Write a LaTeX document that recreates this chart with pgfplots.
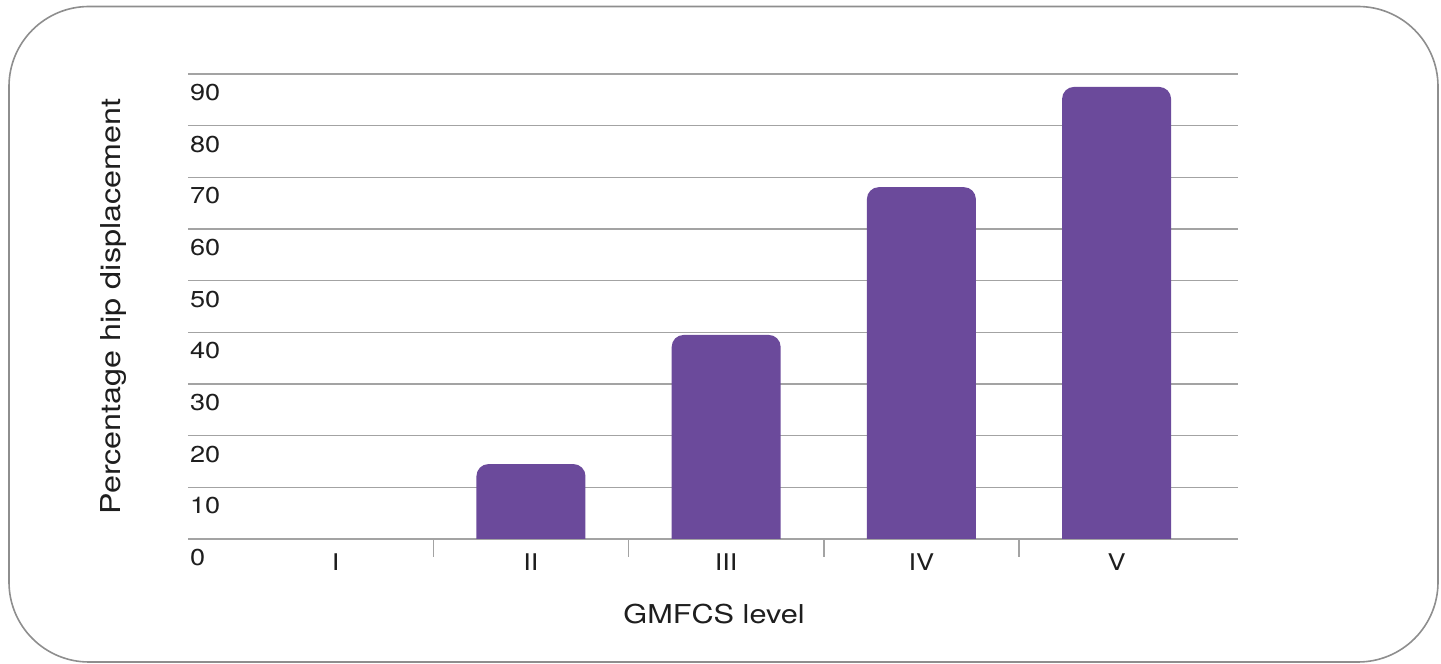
\documentclass[border=0pt]{standalone}
\usepackage{pgfplots}
\usepackage{pgfplotstable}
\pgfplotsset{compat=1.18}
\usepackage{fontspec}
\setmainfont{TeX Gyre Heros}[FakeStretch=1.18]

\definecolor{barpurple}{HTML}{6B4A9B}
\definecolor{gridgray}{HTML}{A3A3A3}
\definecolor{framegray}{HTML}{8E8E8E}
\definecolor{textdark}{HTML}{1E1E1E}

% Hip displacement (%) by GMFCS level (level I = 0, no bar)
\pgfplotstableread{
x y
1 14.5
2 39.5
3 68.1
4 87.5
}\hipdata

\begin{document}
\begin{tikzpicture}
\useasboundingbox (-94pt,-62.5pt) rectangle (626.5pt,269.5pt);
\draw[framegray, line width=0.8pt, rounded corners=40pt]
  (-89.5pt,-61.5pt) rectangle (625pt,266.25pt);
\begin{axis}[
  at={(0,0)}, anchor=south west,
  scale only axis, width=525pt, height=232.5pt,
  xmin=-0.757, xmax=4.622, ymin=0, ymax=90,
  ybar stacked, stack negative=on previous, bar width=54.5pt,
  axis line style={draw=none},
  ymajorgrids,
  grid style={gridgray, line width=0.8pt},
  ytick={0,10,...,90},
  xtick={0,1,2,3,4},
  xticklabels={I,II,III,IV,V},
  minor xtick={0.5,1.5,2.5,3.5},
  xtick pos=bottom, ytick pos=left,
  tick align=outside,
  major tick length=0pt,
  minor tick length=9pt,
  minor tick style={gridgray, line width=0.8pt},
  /pgf/number format/assume math mode=true,
  tick label style={font=\fontsize{11.5}{13}\selectfont, text=textdark},
  yticklabel style={anchor=north west, xshift=-2.5pt, yshift=-1.5pt},
  xticklabel style={yshift=-4pt},
  xlabel={GMFCS level},
  ylabel={Percentage hip displacement},
  every axis x label/.style={at={(axis description cs:0.501,-0.161)}, anchor=center,
    font=\fontsize{13}{15}\selectfont, text=textdark},
  every axis y label/.style={at={(axis description cs:-0.0714,0.5)}, anchor=center,
    rotate=90, font=\fontsize{13.7}{15}\selectfont, text=textdark},
]
% hidden base below the axis, so only the top corners of the bars stay rounded
\addplot[draw=none, fill=none] table[x=x, y expr=-4] {\hipdata};
\addplot[fill=barpurple, draw=none, rounded corners=6pt]
  table[x=x, y expr=\thisrow{y}+4] {\hipdata};
\end{axis}
\end{tikzpicture}
\end{document}
